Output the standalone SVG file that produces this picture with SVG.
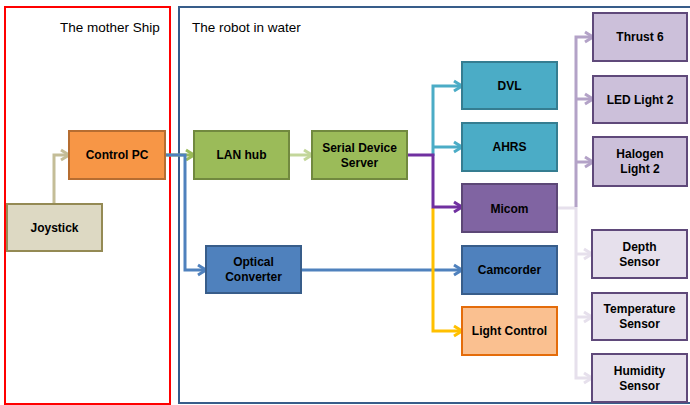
<svg xmlns="http://www.w3.org/2000/svg" width="690" height="405" viewBox="0 0 690 405">
  <style>
    .zone { fill: none; stroke-width: 2; }
    .zlabel { font-family: "Liberation Sans", Arial, sans-serif; font-size: 13.5px; fill: #000; }
    .box { stroke-width: 2; }
    .lbl { font-family: "Liberation Sans", Arial, sans-serif; font-size: 12px; font-weight: bold; fill: #000; text-anchor: middle; }
    .wire { fill: none; stroke-width: 3; stroke-linejoin: miter; }
  </style>
  <defs>
    <marker id="a-tan" markerUnits="userSpaceOnUse" markerWidth="14" markerHeight="14" refX="10" refY="6" orient="auto" overflow="visible">
      <path d="M2,1 L10,6 L2,11" fill="none" stroke="#C4BD97" stroke-width="3"/>
    </marker>
    <marker id="a-green" markerUnits="userSpaceOnUse" markerWidth="14" markerHeight="14" refX="10" refY="6" orient="auto" overflow="visible">
      <path d="M2,1 L10,6 L2,11" fill="none" stroke="#9BBB59" stroke-width="3"/>
    </marker>
    <marker id="a-lgreen" markerUnits="userSpaceOnUse" markerWidth="14" markerHeight="14" refX="10" refY="6" orient="auto" overflow="visible">
      <path d="M2,1 L10,6 L2,11" fill="none" stroke="#C3D69B" stroke-width="3"/>
    </marker>
    <marker id="a-blue" markerUnits="userSpaceOnUse" markerWidth="14" markerHeight="14" refX="10" refY="6" orient="auto" overflow="visible">
      <path d="M2,1 L10,6 L2,11" fill="none" stroke="#4F81BD" stroke-width="3"/>
    </marker>
    <marker id="a-cyan" markerUnits="userSpaceOnUse" markerWidth="14" markerHeight="14" refX="10" refY="6" orient="auto" overflow="visible">
      <path d="M2,1 L10,6 L2,11" fill="none" stroke="#4BACC6" stroke-width="3"/>
    </marker>
    <marker id="a-purple" markerUnits="userSpaceOnUse" markerWidth="14" markerHeight="14" refX="10" refY="6" orient="auto" overflow="visible">
      <path d="M2,1 L10,6 L2,11" fill="none" stroke="#7030A0" stroke-width="3"/>
    </marker>
    <marker id="a-yellow" markerUnits="userSpaceOnUse" markerWidth="14" markerHeight="14" refX="10" refY="6" orient="auto" overflow="visible">
      <path d="M2,1 L10,6 L2,11" fill="none" stroke="#FFC000" stroke-width="3"/>
    </marker>
    <marker id="a-lilac" markerUnits="userSpaceOnUse" markerWidth="14" markerHeight="14" refX="10" refY="6" orient="auto" overflow="visible">
      <path d="M2,1 L10,6 L2,11" fill="none" stroke="#B3A2C7" stroke-width="3"/>
    </marker>
    <marker id="a-pale" markerUnits="userSpaceOnUse" markerWidth="14" markerHeight="14" refX="10" refY="6" orient="auto" overflow="visible">
      <path d="M2,1 L10,6 L2,11" fill="none" stroke="#E6E0EC" stroke-width="3"/>
    </marker>
  </defs>

  <rect width="690" height="405" fill="#FFFFFF"/>

  <!-- zones -->
  <g id="zone-ship">
    <rect class="zone" x="5" y="7" width="165" height="397" stroke="#FF0000"/>
    <text class="zlabel" x="60" y="32">The mother Ship</text>
  </g>
  <g id="zone-robot">
    <rect class="zone" x="179" y="7" width="520" height="396" stroke="#385D8A"/>
    <text class="zlabel" x="192" y="32">The robot in water</text>
  </g>

  <!-- connectors -->
  <g id="connectors">
    <path class="wire" stroke="#C4BD97" d="M54,204 V155 H69" marker-end="url(#a-tan)"/>
    <path class="wire" stroke="#9BBB59" d="M165,155 H194" marker-end="url(#a-green)"/>
    <path class="wire" stroke="#4F81BD" d="M165,155 H185 V270 H206" marker-end="url(#a-blue)"/>
    <path class="wire" stroke="#C3D69B" d="M289,155 H312" marker-end="url(#a-lgreen)"/>
    <path class="wire" stroke="#4F81BD" d="M301,270 H462" marker-end="url(#a-blue)"/>
    <path class="wire" stroke="#FFC000" d="M433,208 V331 H462" marker-end="url(#a-yellow)"/>
    <path class="wire" stroke="#4BACC6" d="M433,156 V86 H462" marker-end="url(#a-cyan)"/>
    <path class="wire" stroke="#4BACC6" d="M433,147 H462" marker-end="url(#a-cyan)"/>
    <path class="wire" stroke="#7030A0" d="M407,155 H433 V207 H462" marker-end="url(#a-purple)"/>
    <path class="wire" stroke="#E6E0EC" d="M557,208 H576 V378 H592" marker-end="url(#a-pale)"/>
    <path class="wire" stroke="#E6E0EC" d="M576,254 H592" marker-end="url(#a-pale)"/>
    <path class="wire" stroke="#E6E0EC" d="M576,317 H592" marker-end="url(#a-pale)"/>
    <path class="wire" stroke="#B3A2C7" d="M576,207 V37 H593" marker-end="url(#a-lilac)"/>
    <path class="wire" stroke="#B3A2C7" d="M576,99 H593" marker-end="url(#a-lilac)"/>
    <path class="wire" stroke="#B3A2C7" d="M576,162 H593" marker-end="url(#a-lilac)"/>
  </g>

  <!-- nodes -->
  <g id="joystick">
    <rect class="box" x="7" y="204" width="95" height="47" fill="#DDD9C3" stroke="#948A54"/>
    <text class="lbl" x="54.5" y="232">Joystick</text>
  </g>
  <g id="control-pc">
    <rect class="box" x="69" y="131" width="96" height="48" fill="#F79646" stroke="#B66D31"/>
    <text class="lbl" x="117" y="159">Control PC</text>
  </g>
  <g id="lan-hub">
    <rect class="box" x="194" y="131" width="95" height="48" fill="#9BBB59" stroke="#71893F"/>
    <text class="lbl" x="241.5" y="159">LAN hub</text>
  </g>
  <g id="serial-device-server">
    <rect class="box" x="312" y="131" width="95" height="48" fill="#9BBB59" stroke="#71893F"/>
    <text class="lbl" x="359.5" y="152">Serial Device</text>
    <text class="lbl" x="359.5" y="167">Server</text>
  </g>
  <g id="optical-converter">
    <rect class="box" x="206" y="246" width="95" height="47" fill="#4F81BD" stroke="#385D8A"/>
    <text class="lbl" x="253.5" y="266">Optical</text>
    <text class="lbl" x="253.5" y="281">Converter</text>
  </g>
  <g id="dvl">
    <rect class="box" x="462" y="62" width="95" height="47" fill="#4BACC6" stroke="#357D91"/>
    <text class="lbl" x="509.5" y="90">DVL</text>
  </g>
  <g id="ahrs">
    <rect class="box" x="462" y="123" width="95" height="48" fill="#4BACC6" stroke="#357D91"/>
    <text class="lbl" x="509.5" y="151">AHRS</text>
  </g>
  <g id="micom">
    <rect class="box" x="462" y="184" width="95" height="48" fill="#8064A2" stroke="#5C4776"/>
    <text class="lbl" x="509.5" y="213">Micom</text>
  </g>
  <g id="camcorder">
    <rect class="box" x="462" y="246" width="95" height="48" fill="#4F81BD" stroke="#385D8A"/>
    <text class="lbl" x="509.5" y="274">Camcorder</text>
  </g>
  <g id="light-control">
    <rect class="box" x="462" y="307" width="95" height="48" fill="#FAC090" stroke="#E46C0A"/>
    <text class="lbl" x="509.5" y="335">Light Control</text>
  </g>
  <g id="thrust">
    <rect class="box" x="593" y="13" width="94" height="48" fill="#CCC0DA" stroke="#5F497A"/>
    <text class="lbl" x="640" y="41">Thrust 6</text>
  </g>
  <g id="led-light">
    <rect class="box" x="593" y="76" width="94" height="47" fill="#CCC0DA" stroke="#5F497A"/>
    <text class="lbl" x="640" y="104">LED Light 2</text>
  </g>
  <g id="halogen-light">
    <rect class="box" x="593" y="137" width="94" height="49" fill="#CCC0DA" stroke="#5F497A"/>
    <text class="lbl" x="640" y="158">Halogen</text>
    <text class="lbl" x="640" y="173">Light 2</text>
  </g>
  <g id="depth-sensor">
    <rect class="box" x="592" y="230" width="95" height="48" fill="#E6E0EC" stroke="#5F497A"/>
    <text class="lbl" x="639.5" y="251">Depth</text>
    <text class="lbl" x="639.5" y="266">Sensor</text>
  </g>
  <g id="temperature-sensor">
    <rect class="box" x="592" y="293" width="95" height="47" fill="#E6E0EC" stroke="#5F497A"/>
    <text class="lbl" x="639.5" y="313">Temperature</text>
    <text class="lbl" x="639.5" y="328">Sensor</text>
  </g>
  <g id="humidity-sensor">
    <rect class="box" x="592" y="354" width="95" height="48" fill="#E6E0EC" stroke="#5F497A"/>
    <text class="lbl" x="639.5" y="375">Humidity</text>
    <text class="lbl" x="639.5" y="390">Sensor</text>
  </g>
</svg>
